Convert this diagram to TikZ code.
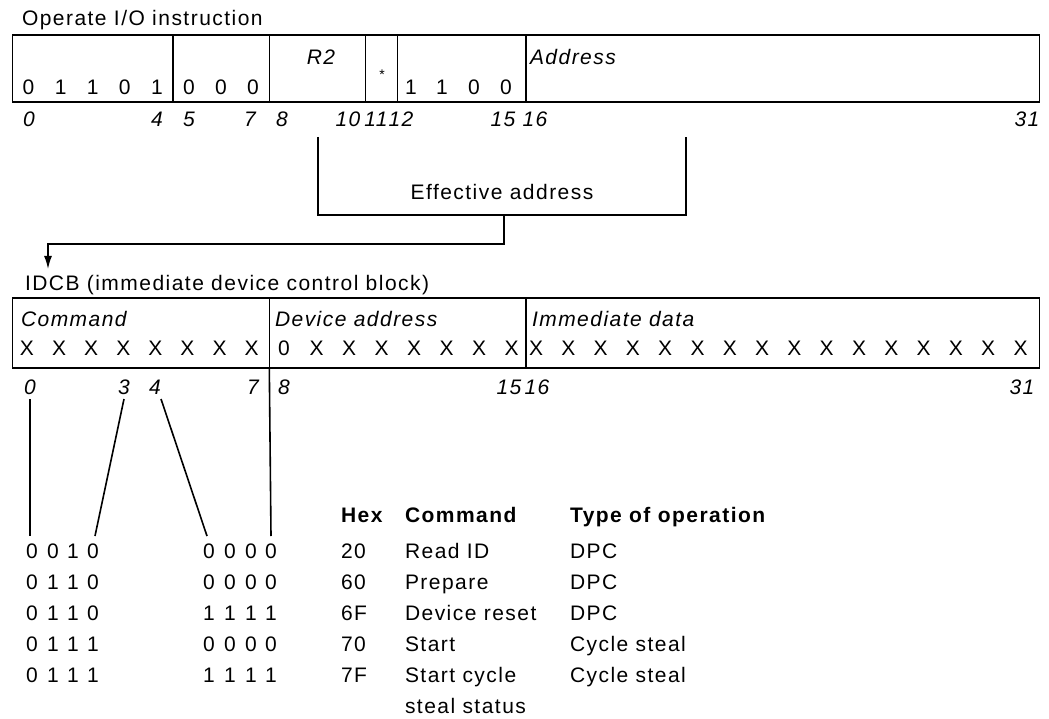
\documentclass[tikz,border=0pt]{standalone}
\usepackage{fontspec}
\setmainfont{Liberation Sans}[LetterSpace=7]
\usetikzlibrary{arrows.meta}
\begin{document}
\begin{tikzpicture}[x=1pt,y=-1pt,
  every node/.style={inner sep=0pt,outer sep=0pt},
  fld/.style={draw,line width=1.5pt,anchor=north west},
  tx/.style={font=\fontsize{21}{24}\selectfont},
  itx/.style={font=\fontsize{21}{24}\selectfont\itshape},
  btx/.style={font=\fontsize{21}{24}\selectfont\bfseries},
  ln/.style={line width=1.6pt},
]
\useasboundingbox (0,0) rectangle (1049,719);

% ---------- Operate I/O instruction ----------
\node[tx,anchor=base west] (t1) at (22,26) {Operate I/O instruction};
\node[fld,minimum width=160.5pt,minimum height=67pt] (fa) at (12.5,35) {};
\node[fld,minimum width=96.3pt,minimum height=67pt] (fb) at (173,35) {};
\node[fld,minimum width=96.3pt,minimum height=67pt] (fc) at (269.3,35) {};
\node[fld,minimum width=32.1pt,minimum height=67pt] (fd) at (365.6,35) {};
\node[fld,minimum width=128.4pt,minimum height=67pt] (fe) at (397.7,35) {};
\node[fld,minimum width=513.6pt,minimum height=67pt] (ff) at (526.1,35) {};

\foreach \x/\d [count=\i] in {28.5/0,60.6/1,92.7/1,124.8/0,156.9/1,189/0,221/0,253/0,411/1,442/1,474/0,506/0}
  \node[tx,anchor=base] (td\i) at (\x,94.5) {\d};
\node[itx,anchor=base] (r2) at (321,64.5) {R2};
\node[font=\fontsize{14}{14}\selectfont,anchor=base] (star) at (382,80) {*};
\node[itx,anchor=base west] (addr) at (530,64.5) {Address};

\foreach \x/\d [count=\i] in {29/0,157/4,189/5,250/7,282/8,348/10,376/11,401/12,503/15,535/16,1027/31}
  \node[itx,anchor=base] (tb\i) at (\x,126.5) {\d};

% ---------- Effective address ----------
\coordinate (eaL) at (318,137);
\coordinate (eaR) at (686,137);
\coordinate (eaBL) at (318,215);
\coordinate (eaBR) at (686,215);
\coordinate (stem) at (504,215);
\coordinate (tip) at (48,269);
\draw[ln] (eaL) -- (eaBL) -- (eaBR) -- (eaR);
\node[tx,anchor=base] (ea) at (502,200) {Effective address};
\draw[ln,-{Latex[length=13pt,width=8pt]}] (stem) -- (504,244) -| (tip);

% ---------- IDCB ----------
\node[tx,anchor=base west] (idcb) at (25,290.5) {IDCB (immediate device control block)};
\node[fld,minimum width=256.8pt,minimum height=70pt] (ga) at (12.5,298) {};
\node[fld,minimum width=256.8pt,minimum height=70pt] (gb) at (269.3,298) {};
\node[fld,minimum width=513.6pt,minimum height=70pt] (gc) at (526.1,298) {};
\node[itx,anchor=base west] (cmd) at (21,326.5) {Command};
\node[itx,anchor=base west] (dev) at (275,326.5) {Device address};
\node[itx,anchor=base west] (imm) at (532,326.5) {Immediate data};

\foreach \k in {0,...,7}
  \node[tx,anchor=base] (cx\k) at (27+32.1*\k,355.5) {X};
\node[tx,anchor=base] (dx0) at (284,355.5) {0};
\foreach \k in {1,...,7}
  \node[tx,anchor=base] (dx\k) at (284+32.5*\k,355.5) {X};
\foreach \k in {0,...,15}
  \node[tx,anchor=base] (ix\k) at (536+32.3*\k,355.5) {X};

\foreach \x/\d [count=\i] in {30/0,124/3,155/4,253/7,284/8,509/15,537/16,1022/31}
  \node[itx,anchor=base] (ib\i) at (\x,394.5) {\d};

% ---------- bit lines ----------
\coordinate (l0a) at (30,399);  \coordinate (l0b) at (30,536);
\coordinate (l3a) at (124,399); \coordinate (l3b) at (95,536);
\coordinate (l4a) at (161,399); \coordinate (l4b) at (207,536);
\coordinate (l8b) at (271,536);
\draw[ln] (l0a) -- (l0b);
\draw[ln] (l3a) -- (l3b);
\draw[ln] (l4a) -- (l4b);
\draw[ln] (ga.south east) -- (l8b);

% ---------- table ----------
\node[btx,anchor=base west] (hH) at (341,522.5) {Hex};
\node[btx,anchor=base west] (hC) at (405,522.5) {Command};
\node[btx,anchor=base west] (hT) at (570,522.5) {Type of operation};

\foreach \y/\a/\b/\c/\d/\e/\f/\g/\h in {558.5/0/0/1/0/0/0/0/0, 589.5/0/1/1/0/0/0/0/0, 620.5/0/1/1/0/1/1/1/1, 651.5/0/1/1/1/0/0/0/0, 682.5/0/1/1/1/1/1/1/1}{
  \node[tx,anchor=base] (a\y) at (32,\y) {\a};
  \node[tx,anchor=base] (b\y) at (53,\y) {\b};
  \node[tx,anchor=base] (c\y) at (73,\y) {\c};
  \node[tx,anchor=base] (d\y) at (93,\y) {\d};
  \node[tx,anchor=base] (e\y) at (209,\y) {\e};
  \node[tx,anchor=base] (f\y) at (230,\y) {\f};
  \node[tx,anchor=base] (g\y) at (251,\y) {\g};
  \node[tx,anchor=base] (h\y) at (271,\y) {\h};
}
\foreach \y/\H/\C/\T in {558.5/20/Read ID/DPC, 589.5/60/Prepare/DPC, 620.5/6F/Device reset/DPC, 651.5/70/Start/Cycle steal, 682.5/7F/Start cycle/Cycle steal}{
  \node[tx,anchor=base west] (hx\y) at (341,\y) {\H};
  \node[tx,anchor=base west] (cm\y) at (405,\y) {\C};
  \node[tx,anchor=base west] (ty\y) at (570,\y) {\T};
}
\node[tx,anchor=base west] (cmss) at (405,713.5) {steal status};
\end{tikzpicture}
\end{document}
